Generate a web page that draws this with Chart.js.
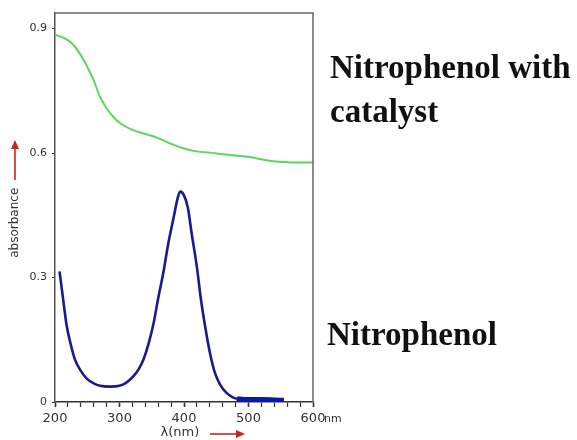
<!DOCTYPE html>
<html>
<head>
<meta charset="utf-8">
<script src="https://cdn.jsdelivr.net/npm/chart.js@4.4.1/dist/chart.umd.min.js"></script>
<style>
  html, body { margin: 0; padding: 0; background: #ffffff; }
  #wrap { width: 577px; height: 440px; position: relative; }
</style>
</head>
<body>
<div id="wrap"><canvas id="c" width="577" height="440"></canvas></div>
<script>
// ---- Data ----
const catalystWavelength = [200, 210, 220, 230, 240, 250, 260, 270, 280, 290, 300, 320, 340, 360, 380, 400, 420, 440, 460, 480, 500, 520, 540, 560, 580, 600];
const catalystAbsorbance = [0.885, 0.880, 0.872, 0.858, 0.836, 0.808, 0.775, 0.735, 0.708, 0.688, 0.673, 0.656, 0.646, 0.636, 0.622, 0.611, 0.604, 0.601, 0.597, 0.594, 0.591, 0.585, 0.580, 0.578, 0.577, 0.577];

const nitroWavelength = [207, 212, 218, 225, 231, 240, 250, 260, 270, 285, 300, 310, 321, 330, 337, 345, 353, 360, 368, 376, 384, 390, 394, 400, 406, 412, 420, 426, 433, 440, 448, 456, 466, 475, 482, 500, 520, 540, 555];
const nitroAbsorbance = [0.315, 0.255, 0.185, 0.135, 0.102, 0.075, 0.055, 0.045, 0.039, 0.037, 0.039, 0.046, 0.061, 0.080, 0.102, 0.140, 0.191, 0.250, 0.312, 0.385, 0.445, 0.490, 0.507, 0.498, 0.468, 0.405, 0.325, 0.250, 0.180, 0.120, 0.070, 0.042, 0.022, 0.012, 0.008, 0.006, 0.006, 0.005, 0.004];

const yTickValues = [0, 0.3, 0.6, 0.9];
const xLabelValues = [200, 300, 400, 500, 600];
const seriesNames = ['Nitrophenol with catalyst', 'Nitrophenol'];
const labelCatalyst = ['Nitrophenol with', 'catalyst'];
const labelNitro = 'Nitrophenol';

function toPoints(xs, ys) { return xs.map((x, i) => ({ x: x, y: ys[i] })); }

const decorPlugin = {
  id: 'decor',
  afterDraw(chart) {
    const ctx = chart.ctx;
    const a = chart.chartArea;
    const xs = chart.scales.x;
    ctx.save();
    // frame (top and right)
    ctx.strokeStyle = '#666666';
    ctx.lineWidth = 1.5;
    ctx.beginPath();
    ctx.moveTo(a.left, a.top);
    ctx.lineTo(a.right, a.top);
    ctx.lineTo(a.right, a.bottom);
    ctx.stroke();

    // "nm" after last x label
    ctx.fillStyle = '#333333';
    ctx.font = '11px "DejaVu Sans"';
    ctx.textBaseline = 'middle';
    ctx.textAlign = 'left';
    ctx.fillText('nm', xs.getPixelForValue(600) + 11, 419);

    // red arrow along x title
    const red = '#cc2222';
    ctx.strokeStyle = red;
    ctx.fillStyle = red;
    ctx.lineWidth = 1.6;
    ctx.beginPath();
    ctx.moveTo(210, 434);
    ctx.lineTo(238, 434);
    ctx.stroke();
    ctx.beginPath();
    ctx.moveTo(245, 434);
    ctx.lineTo(236, 430);
    ctx.lineTo(236, 438);
    ctx.closePath();
    ctx.fill();

    // red arrow along y title
    ctx.beginPath();
    ctx.moveTo(15, 180);
    ctx.lineTo(15, 147);
    ctx.stroke();
    ctx.beginPath();
    ctx.moveTo(15, 140);
    ctx.lineTo(11, 149);
    ctx.lineTo(19, 149);
    ctx.closePath();
    ctx.fill();

    // series labels on the right
    ctx.fillStyle = '#111111';
    ctx.textAlign = 'left';
    ctx.textBaseline = 'alphabetic';
    ctx.font = 'bold 33px "Liberation Serif"';
    ctx.fillText(labelCatalyst[0], 330, 78);
    ctx.fillText(labelCatalyst[1], 330, 122);
    ctx.fillText(labelNitro, 327, 345);
    ctx.restore();
  }
};

new Chart(document.getElementById('c'), {
  type: 'line',
  data: {
    datasets: [
      {
        label: seriesNames[0],
        data: toPoints(catalystWavelength, catalystAbsorbance),
        borderColor: '#5cd65c',
        borderWidth: 2,
        pointRadius: 0,
        cubicInterpolationMode: 'monotone',
        fill: false
      },
      {
        label: seriesNames[1],
        data: toPoints(nitroWavelength, nitroAbsorbance),
        borderColor: '#1a1a90',
        borderWidth: 2.6,
        pointRadius: 0,
        cubicInterpolationMode: 'monotone',
        fill: false,
        segment: {
          borderWidth: c => (c.p0.parsed.x >= 482 ? 5 : 2.6),
          borderColor: c => (c.p0.parsed.x >= 482 ? '#0a1aa8' : '#1a1a90')
        }
      }
    ]
  },
  options: {
    responsive: false,
    animation: false,
    devicePixelRatio: 1,
    layout: { padding: { left: 0, right: 264, top: 13, bottom: 0 } },
    plugins: {
      legend: { display: false },
      tooltip: { enabled: false },
      title: { display: false }
    },
    scales: {
      x: {
        type: 'linear',
        min: 200,
        max: 600,
        afterFit(scale) { scale.height = 38; },
        ticks: {
          stepSize: 20,
          autoSkip: false,
          maxRotation: 0,
          padding: 4,
          color: '#333333',
          font: { family: 'DejaVu Sans', size: 13 },
          callback: v => (xLabelValues.includes(v) ? String(v) : '')
        },
        grid: {
          drawOnChartArea: false,
          drawTicks: true,
          tickLength: 5,
          tickColor: '#333333',
          tickWidth: c => (c.tick && xLabelValues.includes(c.tick.value) ? 1.6 : 1.2)
        },
        border: { display: true, color: '#333333', width: 1.5 },
        title: {
          display: true,
          text: 'λ(nm)  ',
          color: '#333333',
          font: { family: 'DejaVu Sans', size: 13 },
          padding: { top: 0, bottom: 0 }
        }
      },
      y: {
        type: 'linear',
        min: 0,
        max: 0.9375,
        afterFit(scale) { scale.width = 55; },
        afterBuildTicks(scale) { scale.ticks = yTickValues.map(v => ({ value: v })); },
        ticks: {
          padding: 5,
          color: '#333333',
          font: { family: 'DejaVu Sans', size: 11 },
          callback: v => (v === 0 ? '0' : v.toFixed(1))
        },
        grid: {
          drawOnChartArea: false,
          drawTicks: true,
          tickLength: 3,
          tickColor: '#333333'
        },
        border: { display: true, color: '#555555', width: 1.5 },
        title: {
          display: true,
          text: 'absorbance        ',
          color: '#333333',
          font: { family: 'DejaVu Sans', size: 12 },
          padding: { top: 8, bottom: 0 }
        }
      }
    }
  },
  plugins: [decorPlugin]
});
</script>
</body>
</html>
